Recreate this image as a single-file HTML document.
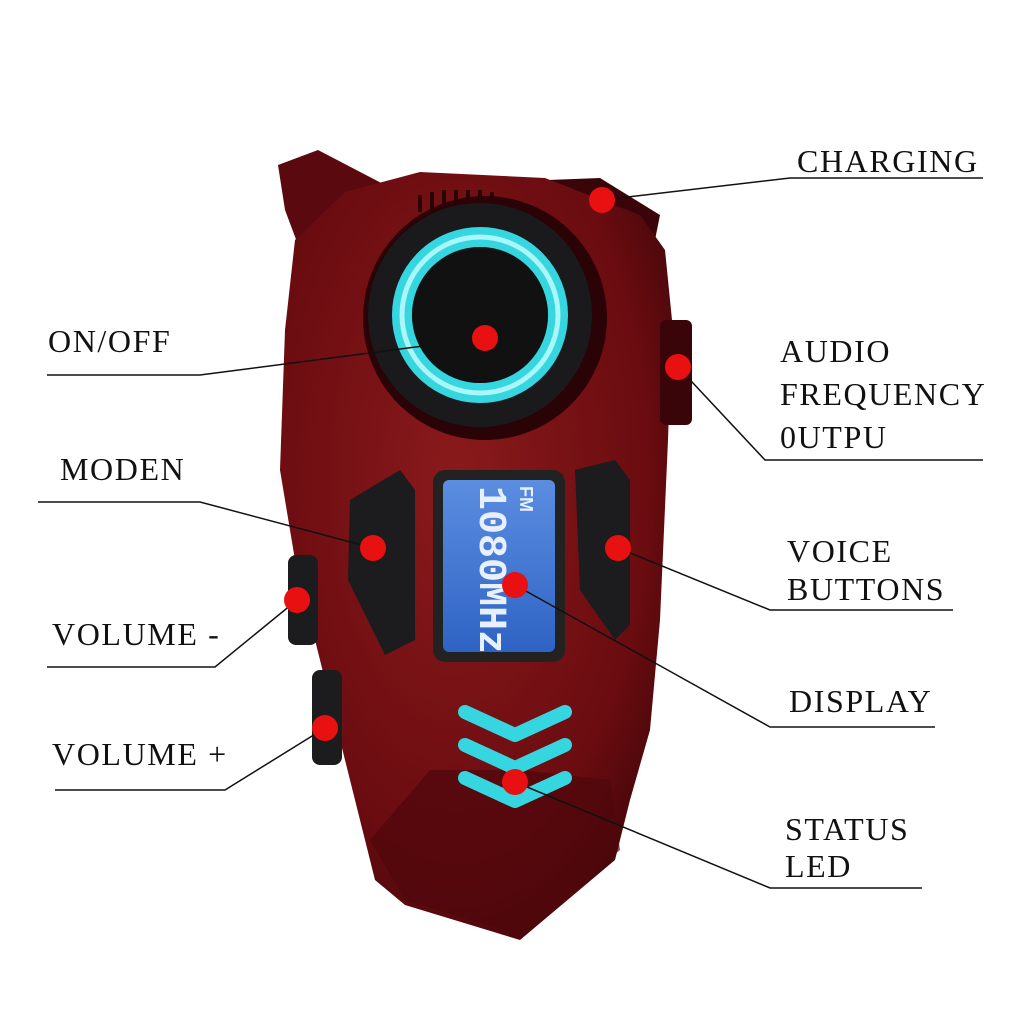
<!DOCTYPE html>
<html><head><meta charset="utf-8"><style>
html,body{margin:0;padding:0;background:#fff}
svg{display:block}
text{font-family:"Liberation Serif",serif;font-size:32px;fill:#111;letter-spacing:1.6px}
</style></head><body>
<svg width="1024" height="1024" viewBox="0 0 1024 1024" xmlns="http://www.w3.org/2000/svg">
<defs>
<radialGradient id="rg" cx="0.45" cy="0.4" r="0.7">
<stop offset="0" stop-color="#8a1a1c"/><stop offset="0.7" stop-color="#6a0c10"/><stop offset="1" stop-color="#3a0508"/>
</radialGradient>
<linearGradient id="lcd" x1="0" y1="0" x2="0" y2="1">
<stop offset="0" stop-color="#5b8ee0"/><stop offset="1" stop-color="#2f63c4"/>
</linearGradient>
</defs>
<path d="M278,165 L318,150 L385,185 L340,240 L300,250 L285,210 Z" fill="#5a0a0e"/>
<path d="M548,180 L600,178 L660,215 L655,240 L560,205 Z" fill="#3a0508"/>
<path d="M295,240 L345,192 L420,172 L545,178 L640,215 L665,250 L672,320 L668,440 L660,620 L650,730 L630,800 L615,860 L520,940 L405,905 L375,880 L355,800 L335,720 L295,560 L280,470 L285,330 Z" fill="url(#rg)"/>
<path d="M370,840 L430,770 L520,770 L610,780 L620,850 L520,935 L405,900 Z" fill="#4f070b" opacity="0.7"/>
<g stroke="#2a0305" stroke-width="4">
<line x1="420" y1="195" x2="420" y2="212"/><line x1="432" y1="192" x2="432" y2="212"/><line x1="444" y1="190" x2="444" y2="212"/><line x1="456" y1="190" x2="456" y2="212"/><line x1="468" y1="190" x2="468" y2="212"/><line x1="480" y1="190" x2="480" y2="212"/><line x1="492" y1="192" x2="492" y2="212"/>
</g>
<circle cx="485" cy="318" r="122" fill="#2a0306"/>
<circle cx="480" cy="315" r="112" fill="#1a1a1c"/>
<circle cx="480" cy="315" r="78" fill="none" stroke="#35d6e0" stroke-width="20"/>
<circle cx="480" cy="315" r="78" fill="none" stroke="#aaf6f8" stroke-width="5"/>
<circle cx="480" cy="315" r="68" fill="#111"/>
<path d="M350,500 L400,470 L415,490 L415,640 L385,655 L348,580 Z" fill="#1c1c1e"/>
<path d="M575,470 L615,460 L630,480 L630,625 L615,640 L580,590 Z" fill="#1c1c1e"/>
<rect x="288" y="555" width="30" height="90" rx="8" fill="#1c1c1e"/>
<rect x="312" y="670" width="30" height="95" rx="8" fill="#1c1c1e"/>
<rect x="660" y="320" width="32" height="105" rx="6" fill="#3a0508"/>
<rect x="433" y="470" width="132" height="192" rx="12" fill="#222"/>
<rect x="443" y="480" width="112" height="172" rx="6" fill="url(#lcd)"/>
<g transform="translate(500,566) rotate(90)">
<text x="-80" y="20" style="font-family:'Liberation Mono',monospace;font-size:40px;font-weight:bold;fill:#e8f0ff;letter-spacing:0">1080MHz</text>
<text x="-80" y="-20" style="font-family:'Liberation Sans',sans-serif;font-size:18px;font-weight:bold;fill:#e8f0ff;letter-spacing:0">FM</text>
</g>
<g fill="none" stroke="#35d6e0" stroke-width="14" stroke-linecap="round" stroke-linejoin="round">
<path d="M465,712 L515,735 L565,712"/>
<path d="M465,745 L515,768 L565,745"/>
<path d="M465,778 L515,801 L565,778"/>
</g>
<g stroke="#111" stroke-width="1.5" fill="none">
<polyline points="602,200 790,178 983,178"/>
<polyline points="485,338 200,375 47,375"/>
<polyline points="373,548 200,502 38,502"/>
<polyline points="297,600 215,667 47,667"/>
<polyline points="325,728 225,790 55,790"/>
<polyline points="678,367 765,460 983,460"/>
<polyline points="618,548 770,610 953,610"/>
<polyline points="515,585 770,727 935,727"/>
<polyline points="515,782 770,888 922,888"/>
</g>
<g fill="#e81010">
<circle cx="602" cy="200" r="13"/><circle cx="485" cy="338" r="13"/><circle cx="373" cy="548" r="13"/>
<circle cx="297" cy="600" r="13"/><circle cx="325" cy="728" r="13"/><circle cx="678" cy="367" r="13"/>
<circle cx="618" cy="548" r="13"/><circle cx="515" cy="585" r="13"/><circle cx="515" cy="782" r="13"/>
</g>
<text x="797" y="172">CHARGING</text>
<text x="48" y="352">ON/OFF</text>
<text x="60" y="480">MODEN</text>
<text x="52" y="645">VOLUME -</text>
<text x="52" y="765">VOLUME +</text>
<text x="780" y="362">AUDIO</text>
<text x="780" y="405">FREQUENCY</text>
<text x="780" y="448">0UTPU</text>
<text x="787" y="562">VOICE</text>
<text x="787" y="600">BUTTONS</text>
<text x="789" y="712">DISPLAY</text>
<text x="785" y="840">STATUS</text>
<text x="785" y="877">LED</text>
</svg>
</body></html>
